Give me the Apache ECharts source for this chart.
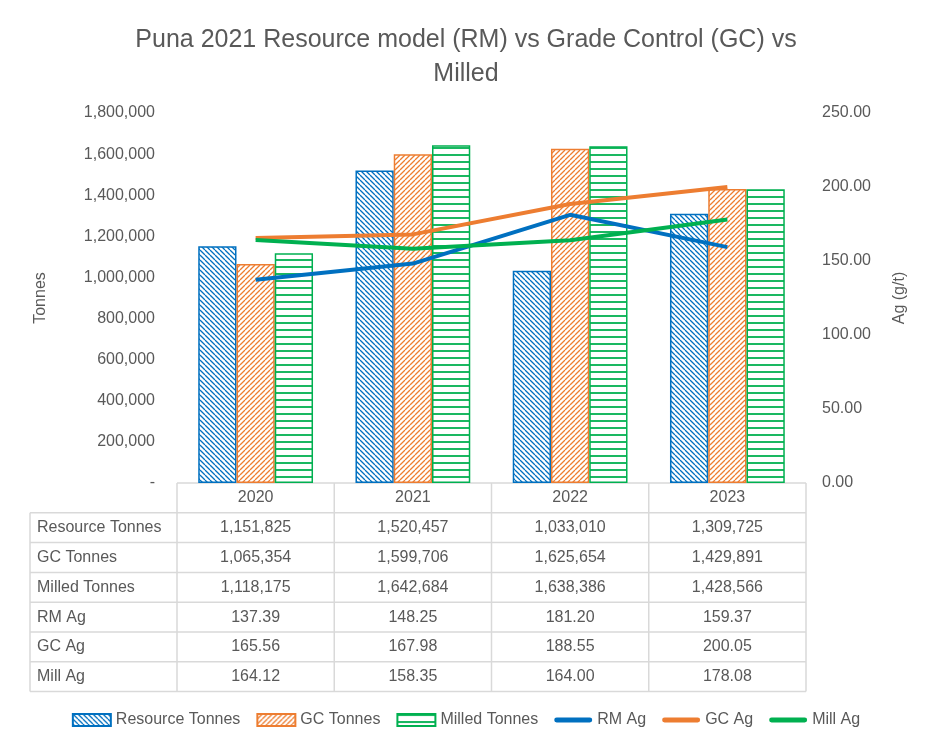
<!DOCTYPE html>
<html>
<head>
	<meta charset="UTF-8">
	<title>Puna 2021 RM vs GC vs Milled</title>
	<style type="text/css">
		html, body {
			margin: 0;
			padding: 0;
			background: #fff;
		}
		#chart {
			width: 932px;
			height: 750px;
		}
	</style>
</head>
<body>
	<div id="chart"></div>

	<script type="text/javascript" src="https://cdn.jsdelivr.net/npm/echarts@6/dist/echarts.min.js"></script>
	<script type="text/javascript">
		var years = ['2020', '2021', '2022', '2023'];
		var resourceTonnes = [1151825, 1520457, 1033010, 1309725];
		var gcTonnes = [1065354, 1599706, 1625654, 1429891];
		var milledTonnes = [1118175, 1642684, 1638386, 1428566];
		var rmAg = [137.39, 148.25, 181.20, 159.37];
		var gcAg = [165.56, 167.98, 188.55, 200.05];
		var millAg = [164.12, 158.35, 164.00, 178.08];

		var seriesNames = ['Resource Tonnes', 'GC Tonnes', 'Milled Tonnes', 'RM Ag', 'GC Ag', 'Mill Ag'];
		var seriesData = [resourceTonnes, gcTonnes, milledTonnes, rmAg, gcAg, millAg];

		var BLUE = '#0070C0', ORANGE = '#ED7D31', GREEN = '#00B050';
		var TXT = '#595959';
		var FONT = 'Liberation Sans';

		function fmtTonnes(v) {
			return v.toLocaleString('en-US');
		}
		function fmtAg(v) {
			return v.toFixed(2);
		}

		// hatch patterns like Excel's pattern fills
		function hatch(kind, color) {
			var c = document.createElement('canvas');
			var s = kind == 'h' ? 7 : 5;
			c.width = s; c.height = s;
			var ctx = c.getContext('2d');
			ctx.fillStyle = '#fff';
			ctx.fillRect(0, 0, s, s);
			ctx.strokeStyle = color;
			ctx.lineWidth = 1.3;
			ctx.beginPath();
			if (kind == 'h') {
				ctx.lineWidth = 1.8;
				ctx.moveTo(0, 1); ctx.lineTo(s, 1);
			} else {
				[-s, 0, s].forEach(function (k) {
					if (kind == 'down') {
						ctx.moveTo(k, 0); ctx.lineTo(k + s, s);
					} else {
						ctx.moveTo(k, s); ctx.lineTo(k + s, 0);
					}
				});
			}
			ctx.stroke();
			return { image: c, repeat: 'repeat' };
		}

		var chart = echarts.init(document.getElementById('chart'));

		function barSeries(i, color, kind) {
			return {
				name: seriesNames[i],
				type: 'bar',
				data: seriesData[i],
				barGap: '0%',
				barCategoryGap: '27%',
				itemStyle: {
					color: hatch(kind, color),
					borderColor: color,
					borderWidth: 1.5
				}
			};
		}
		function lineSeries(i, color) {
			return {
				name: seriesNames[i],
				type: 'line',
				yAxisIndex: 1,
				data: seriesData[i],
				symbol: 'none',
				color: color,
				lineStyle: { color: color, width: 4 }
			};
		}

		var lineIcon = 'path://M2,0 L36,0 A2.5,2.5 0 0 1 36,5 L2,5 A2.5,2.5 0 0 1 2,0 Z';
		var legendData = seriesNames.map(function (name, i) {
			if (i < 3) return { name: name, icon: 'rect' };
			return { name: name, icon: lineIcon, itemStyle: { color: [BLUE, ORANGE, GREEN][i - 3], borderWidth: 0 } };
		});

		var option = {
			animation: false,
			textStyle: { fontFamily: FONT },
			title: {
				text: 'Puna 2021 Resource model (RM) vs Grade Control (GC) vs\nMilled',
				left: 'center',
				top: 18,
				textStyle: { color: TXT, fontSize: 25, fontWeight: 'normal', lineHeight: 34, fontFamily: FONT }
			},
			legend: {
				bottom: 17,
				left: 'center',
				itemGap: 16,
				itemWidth: 38,
				itemHeight: 12,
				textStyle: { color: TXT, fontSize: 16 },
				data: legendData
			},
			grid: { left: 177, right: 126, top: 113, bottom: 267 },
			xAxis: {
				type: 'category',
				data: years,
				axisLine: { show: false },
				axisTick: { show: false },
				axisLabel: { show: false }
			},
			yAxis: [
				{
					type: 'value',
					min: 0, max: 1800000, interval: 200000,
					name: 'Tonnes',
					nameLocation: 'middle',
					nameGap: 128,
					nameTextStyle: { color: TXT, fontSize: 16 },
					splitLine: { show: false },
					axisLabel: {
						color: TXT, fontSize: 16, margin: 22,
						formatter: function (v) { return v === 0 ? '-' : fmtTonnes(v); }
					}
				},
				{
					type: 'value',
					min: 0, max: 250, interval: 50,
					name: 'Ag (g/t)',
					nameLocation: 'middle',
					nameGap: 86,
					nameTextStyle: { color: TXT, fontSize: 16 },
					splitLine: { show: false },
					axisLabel: { color: TXT, fontSize: 16, margin: 16, formatter: fmtAg }
				}
			],
			series: [
				barSeries(0, BLUE, 'down'),
				barSeries(1, ORANGE, 'up'),
				barSeries(2, GREEN, 'h'),
				lineSeries(3, BLUE),
				lineSeries(4, ORANGE),
				lineSeries(5, GREEN)
			]
		};

		chart.setOption(option);

		// data table under the plot, placed from the category axis
		function drawTable() {
			var grid = chart.getModel().getComponent('grid').coordinateSystem.getRect();
			var band = grid.width / years.length;
			var top = grid.y + grid.height;
			var rowH = 29.8;
			var labelLeft = 30;
			var lineStyle = { stroke: '#D9D9D9', lineWidth: 1.5 };
			var els = [];
			var bottom = top + rowH * (seriesNames.length + 1);

			// header row
			els.push({ type: 'line', shape: { x1: grid.x, y1: top, x2: grid.x + grid.width, y2: top }, style: lineStyle, silent: true });
			for (var r = 1; r <= seriesNames.length + 1; r++) {
				var y = top + rowH * r;
				els.push({ type: 'line', shape: { x1: labelLeft, y1: y, x2: grid.x + grid.width, y2: y }, style: lineStyle, silent: true });
			}
			els.push({ type: 'line', shape: { x1: labelLeft, y1: top + rowH, x2: labelLeft, y2: bottom }, style: lineStyle, silent: true });
			for (var c = 0; c <= years.length; c++) {
				var x = grid.x + band * c;
				els.push({ type: 'line', shape: { x1: x, y1: top, x2: x, y2: bottom }, style: lineStyle, silent: true });
			}

			years.forEach(function (yr, j) {
				var cx = chart.convertToPixel({ xAxisIndex: 0 }, yr);
				els.push({
					type: 'text', x: cx, y: top + rowH / 2, silent: true,
					style: { text: yr, fill: TXT, font: '16px ' + FONT, align: 'center', verticalAlign: 'middle' }
				});
				seriesNames.forEach(function (name, i) {
					var v = seriesData[i][j];
					els.push({
						type: 'text', x: cx, y: top + rowH * (i + 1.5), silent: true,
						style: { text: i < 3 ? fmtTonnes(v) : fmtAg(v), fill: TXT, font: '16px ' + FONT, align: 'center', verticalAlign: 'middle' }
					});
				});
			});
			seriesNames.forEach(function (name, i) {
				els.push({
					type: 'text', x: labelLeft + 7, y: top + rowH * (i + 1.5), silent: true,
					style: { text: name, fill: TXT, font: '16px ' + FONT, align: 'left', verticalAlign: 'middle' }
				});
			});

			chart.setOption({ graphic: els });
		}

		drawTable();
	</script>
</body>
</html>
